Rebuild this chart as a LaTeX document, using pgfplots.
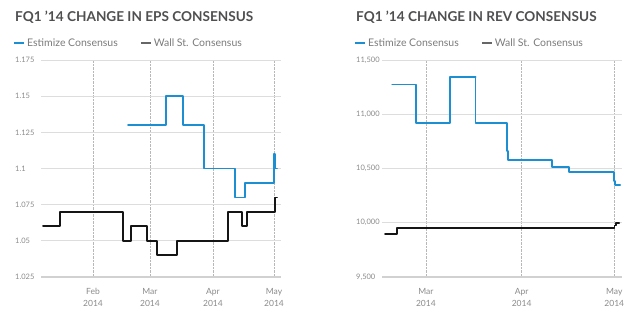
\documentclass[border=0pt]{standalone}
\usepackage{fontspec}
\setmainfont{Lato}
\usepackage{pgfplots}
\pgfplotsset{compat=1.18}
\definecolor{estblue}{HTML}{1B8FD2}
\definecolor{wallblk}{HTML}{151515}
\definecolor{titlegray}{HTML}{4F4F51}
\definecolor{ticklab}{HTML}{8A8A8A}
\definecolor{legtext}{HTML}{7A7A7A}
\definecolor{gridc}{HTML}{DDDDDD}
\pgfplotsset{
 mystyle/.style={
  scale only axis, width=240pt, height=217pt,
  axis x line*=bottom, axis y line*=left,
  y axis line style={draw=none},
  x axis line style={-, draw=black!18, line width=1.6pt},
  major tick length=0pt,
  grid=major,
  scaled ticks=false,
  x grid style={densely dotted, draw=black!28, line width=0.6pt},
  y grid style={draw=gridc, line width=0.8pt},
  yticklabel style={font=\fontsize{7.5}{12}\selectfont, text=ticklab, anchor=west, inner sep=0pt, xshift=-26pt},
  xticklabel style={font=\fontsize{8.5}{12}\selectfont, text=ticklab, align=center, anchor=north, yshift=-8pt},
  /pgf/number format/assume math mode=true,
  legend columns=2,
  legend image code/.code={\draw[line width=2pt] (0pt,0pt) -- (10pt,0pt);},
  legend style={at={(rel axis cs:0,1)}, anchor=west, xshift=-28pt, yshift=17pt,
    draw=none, fill=none, inner sep=0pt,
    font=\fontsize{10.5}{12}\selectfont, text=legtext,
    /tikz/every even column/.append style={column sep=20pt}},
  stepline/.style={line width=1.8pt, line cap=round, line join=round, solid},
 }
}
\begin{document}
\begin{tikzpicture}
\path[use as bounding box] (0pt,0pt) rectangle (640pt,-333pt);
\node[anchor=base west, font=\bfseries\fontsize{13.6}{15}\selectfont, text=titlegray, inner sep=0pt] at (15pt,-21pt) {FQ1 '14 CHANGE IN EPS CONSENSUS};
\node[anchor=base west, font=\bfseries\fontsize{13.6}{15}\selectfont, text=titlegray, inner sep=0pt] at (356pt,-21pt) {FQ1 '14 CHANGE IN REV CONSENSUS};

\begin{axis}[mystyle, at={(41pt,-277pt)}, anchor=south west,
  xmin=5.43, xmax=123.44, ymin=1.025, ymax=1.175,
  xtick={31,59,90,120}, xticklabels={Feb\\2014,Mar\\2014,Apr\\2014,May\\2014},
  ytick={1.025,1.05,1.075,1.1,1.125,1.15,1.175},
  yticklabels={1.025,1.05,1.075,1.1,1.125,1.15,1.175}]
\addlegendimage{estblue}\addlegendentry{Estimize Consensus}
\addlegendimage{black!60}\addlegendentry{Wall St. Consensus}
\addplot[forget plot, wallblk, stepline] coordinates {
(6.4,1.06) (14.8,1.06) (14.8,1.07) (45.7,1.07) (45.7,1.05) (49.7,1.05) (49.7,1.06) (57.5,1.06) (57.5,1.05) (62.5,1.05) (62.5,1.04) (72.3,1.04) (72.3,1.05) (97.4,1.05) (97.4,1.07) (104.3,1.07) (104.3,1.06) (106.7,1.06) (106.7,1.07) (120.5,1.07) (120.5,1.08) (121.5,1.08)};
\addplot[forget plot, estblue, stepline] coordinates {
(48.2,1.13) (66.9,1.13) (66.9,1.15) (75.2,1.15) (75.2,1.13) (85.6,1.13) (85.6,1.10) (100.8,1.10) (100.8,1.08) (105.7,1.08) (105.7,1.09) (120,1.09) (120,1.11) (120.5,1.11) (120.5,1.10) (121.5,1.10)};
\end{axis}

\begin{axis}[mystyle, at={(382pt,-277pt)}, anchor=south west,
  xmin=44.8, xmax=122.5, ymin=9500, ymax=11500,
  xtick={59,90,120}, xticklabels={Mar\\2014,Apr\\2014,May\\2014},
  ytick={9500,10000,10500,11000,11500},
  yticklabels={{9,500},{10,000},{10,500},{11,000},{11,500}}]
\addlegendimage{estblue}\addlegendentry{Estimize Consensus}
\addlegendimage{black!60}\addlegendentry{Wall St. Consensus}
\addplot[forget plot, wallblk, stepline] coordinates {
(45.8,9895) (49.6,9895) (49.6,9950) (120.1,9950) (120.1,9975) (120.6,9975) (120.6,10000) (121.6,10000)};
\addplot[forget plot, estblue, stepline] coordinates {
(48.1,11275) (55.8,11275) (55.8,10920) (66.9,10920) (66.9,11340) (75.1,11340)};
\addplot[forget plot, estblue, stepline] coordinates {
(75.1,11340) (75.1,10918) (85.3,10918) (85.3,10660) (85.6,10660) (85.6,10580) (99.8,10580) (99.8,10515) (105.4,10515) (105.4,10465) (119.8,10465) (119.8,10385) (120.3,10385) (120.3,10350) (121.9,10350)};
\end{axis}
\end{tikzpicture}
\end{document}
